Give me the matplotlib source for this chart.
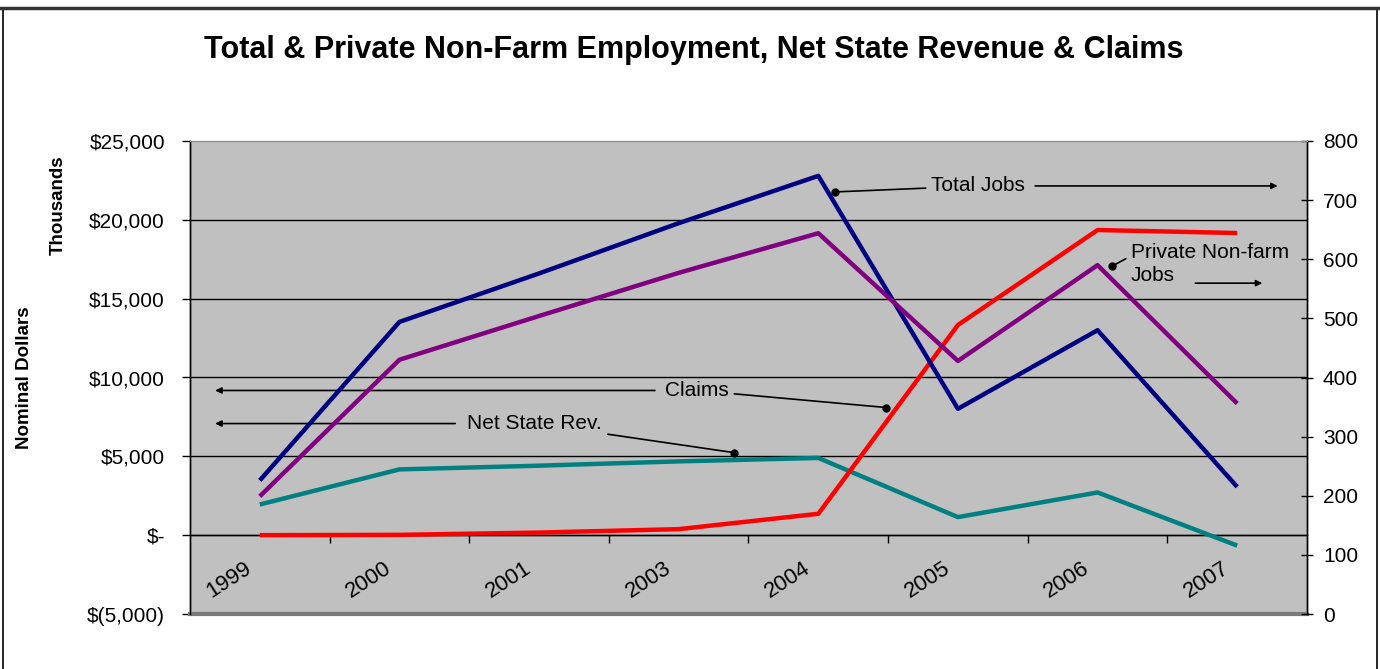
import numpy as np
import matplotlib
matplotlib.use('Agg')
import matplotlib.pyplot as plt
from matplotlib.patches import Rectangle
from matplotlib.ticker import FuncFormatter, MultipleLocator

plt.rcParams['font.family'] = ['Liberation Sans', 'DejaVu Sans']

# category axis (years as reported)
years = ['1999', '2000', '2001', '2003', '2004', '2005', '2006', '2007']

# employment, thousands of jobs (right axis)
total_jobs = [226, 494, 576, 661, 741, 347, 480, 215]
private_jobs = [199, 430, 504, 577, 644, 428, 590, 356]

# nominal dollars, thousands (left axis)
net_state_rev = [1946, 4172, 4407, 4681, 4897, 1145, 2709, -661]
claims = [0, 20, 165, 382, 1355, 13330, 19354, 19163]


def dollar_fmt(v, pos):
    if abs(v) < 1e-9:
        return '$-'
    if v < 0:
        return '$({:,.0f})'.format(-v)
    return '${:,.0f}'.format(v)


fig = plt.figure(figsize=(13.8, 6.69), dpi=100)
ax = fig.add_axes([190 / 1380, 55 / 669, 1117 / 1380, 473 / 669])
ax2 = ax.twinx()

x = np.arange(len(years))
ax.set_facecolor('#C0C0C0')
ax.set_xlim(-0.5, len(years) - 0.5)
ax.set_ylim(-5000, 25000)
ax2.set_ylim(0, 800)

# gridlines on the dollar axis
for g in range(0, 25000, 5000):
    ax.axhline(g, color='black', lw=1.0, zorder=1)

ax.plot(x, net_state_rev, color='#008080', lw=3.2, zorder=3, solid_capstyle='butt')
ax.plot(x, claims, color='#FF0000', lw=3.2, zorder=3, solid_capstyle='butt')
ax2.plot(x, total_jobs, color='#000080', lw=3.2, zorder=3, solid_capstyle='butt')
ax2.plot(x, private_jobs, color='#800080', lw=3.2, zorder=3, solid_capstyle='butt')

# left axis
ax.yaxis.set_major_locator(MultipleLocator(5000))
ax.yaxis.set_major_formatter(FuncFormatter(dollar_fmt))
ax.tick_params(axis='y', direction='out', length=6, width=1, pad=12,
               labelsize=15, colors='black')

# right axis
ax2.yaxis.set_major_locator(MultipleLocator(100))
ax2.tick_params(axis='y', direction='inout', length=9, width=1, pad=7,
                labelsize=15)

# category axis sits on the zero line
ax.spines['bottom'].set_position(('data', 0))
ax.spines['bottom'].set_linewidth(1.0)
ax.set_xticks(np.arange(-0.5, len(years) + 0.5, 1.0)[1:-1])
ax.set_xticklabels([])
ax.tick_params(axis='x', direction='out', length=6, width=1, colors='black')
for i, yr in enumerate(years):
    ax.text(i - 0.218, 0.072, yr, transform=ax.get_xaxis_transform(),
            rotation=33, ha='center', va='center', fontsize=16)

for sp in ['top']:
    ax.spines[sp].set_color('#8C8C8C')
    ax2.spines[sp].set_color('#8C8C8C')
for a in (ax, ax2):
    a.spines['left'].set_linewidth(1.0)
    a.spines['right'].set_linewidth(1.0)
ax2.spines['bottom'].set_visible(False)
ax.axhline(-5000, color='#7A7A7A', lw=3, clip_on=False, zorder=4)

# callouts
dot = dict(marker='o', ms=5, color='black', zorder=5)
lead = dict(arrowstyle='-', color='black', lw=1.2, shrinkA=2, shrinkB=0)
head = dict(arrowstyle='-|>', color='black', lw=1.2, mutation_scale=9,
            shrinkA=0, shrinkB=0)

ax.annotate('Total Jobs', xy=(4.12, 21770), xytext=(5.145, 22150),
            fontsize=15, ha='center', va='center', arrowprops=lead, zorder=5)
ax.plot([4.12], [21770], **dot)
ax.annotate('', xy=(7.29, 22150), xytext=(5.553, 22150), arrowprops=head)

ax.annotate('Private Non-farm\nJobs', xy=(6.105, 17064), xytext=(6.24, 17190),
            fontsize=15, ha='left', va='center', linespacing=1.25,
            arrowprops=dict(lead, relpos=(0, 0.7)), zorder=5)
ax.plot([6.105], [17064], **dot)
ax.annotate('', xy=(7.18, 15983), xytext=(6.70, 15983), arrowprops=head)

ax.annotate('Claims', xy=(4.486, 8096), xytext=(3.13, 9177),
            fontsize=15, ha='center', va='center', arrowprops=lead, zorder=5)
ax.plot([4.486], [8096], **dot)
ax.annotate('', xy=(-0.32, 9177), xytext=(2.83, 9177), arrowprops=head)

ax.annotate('Net State Rev.', xy=(3.397, 5234), xytext=(1.97, 7079),
            fontsize=15, ha='center', va='center', arrowprops=lead, zorder=5)
ax.plot([3.397], [5234], **dot)
ax.annotate('', xy=(-0.32, 7079), xytext=(1.40, 7079), arrowprops=head)

fig.text(0.503, 0.926, 'Total & Private Non-Farm Employment, Net State Revenue & Claims',
         ha='center', va='center', fontsize=22, fontweight='bold')
fig.text(0.018, 0.435, 'Nominal Dollars', rotation=90, ha='center', va='center',
         fontsize=13.5, fontweight='bold')
fig.text(0.042, 0.694, 'Thousands', rotation=90, ha='center', va='center',
         fontsize=13.5, fontweight='bold')

# outer chart border
fig.patches.append(Rectangle((3 / 1380, -0.02), 1374 / 1380, 1.02 - 9 / 669,
                             transform=fig.transFigure, fill=False,
                             edgecolor='black', lw=1.2))
fig.add_artist(plt.Line2D([0, 1], [1 - 8 / 669, 1 - 8 / 669], color='#333333', lw=2.5))

fig.savefig('out.png', dpi=100)
